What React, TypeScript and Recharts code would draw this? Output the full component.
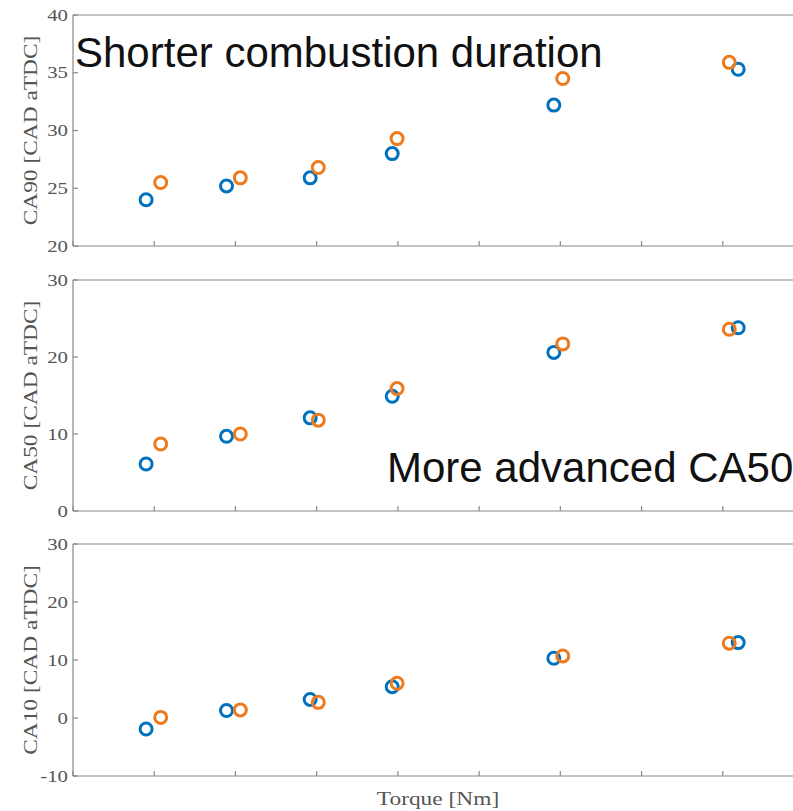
import React from "react";
import { ScatterChart, Scatter, XAxis, YAxis } from "recharts";

// torque positions (axis units, tick labels hidden)
const torqueBlue = [0.9, 1.89, 2.92, 3.93, 5.92, 8.19];
const torqueOrange = [1.08, 2.06, 3.02, 3.99, 6.03, 8.08];

const ca90Blue = [24.0, 25.2, 25.9, 28.0, 32.2, 35.3];
const ca90Orange = [25.5, 25.9, 26.8, 29.3, 34.5, 35.9];

const ca50Blue = [6.1, 9.7, 12.1, 14.9, 20.6, 23.8];
const ca50Orange = [8.7, 10.0, 11.8, 15.9, 21.7, 23.6];

const ca10Blue = [-1.9, 1.3, 3.2, 5.4, 10.3, 13.0];
const ca10Orange = [0.1, 1.4, 2.7, 6.0, 10.7, 12.9];

const xTicks = [0, 1, 2, 3, 4, 5, 6, 7, 8, 9];
const ca90Ticks = [20, 25, 30, 35, 40];
const ca50Ticks = [0, 10, 20, 30];
const ca10Ticks = [-10, 0, 10, 20, 30];

const BLUE = "#0072BD";
const ORANGE = "#EE7A1E";
const AXIS = "#888";
const TEXT = "#555";
const SERIF = "'Liberation Serif', 'Times New Roman', serif";
const SANS = "'Liberation Sans', Arial, sans-serif";

const toPoints = (xs: number[], ys: number[]) => xs.map((x, i) => ({ x, y: ys[i] }));

const Ring = (props: any) => (
  <circle cx={props.cx} cy={props.cy} r={6} fill="none" stroke={props.fill} strokeWidth={3} />
);

const YTick = (props: any) => {
  const { x, y, payload } = props;
  return (
    <g>
      <line x1={x + 5} y1={y} x2={x + 10} y2={y} stroke={AXIS} strokeWidth={1.2} />
      <text
        transform={`translate(${x},${y}) scale(1.3,1)`}
        textAnchor="end"
        dy="0.35em"
        fontFamily={SERIF}
        fontSize={16}
        fill={TEXT}
      >
        {payload.value}
      </text>
    </g>
  );
};

const XTick = (props: any) => {
  const { x, y, dir } = props;
  return <line x1={x} y1={y} x2={x} y2={y + dir * 5} stroke={AXIS} strokeWidth={1.2} />;
};

const WideLabel = ({ x, y, angle = 0, children }: any) => (
  <text
    transform={`translate(${x},${y}) rotate(${angle}) scale(1.3,1)`}
    textAnchor="middle"
    fontFamily={SERIF}
    fontSize={18}
    fill={TEXT}
  >
    {children}
  </text>
);

interface PanelProps {
  top: number;
  height: number;
  marginTop: number;
  marginBottom: number;
  domain: [number, number];
  ticks: number[];
  yLabel: string;
  blue: number[];
  orange: number[];
  children?: React.ReactNode;
}

const Panel = ({ top, height, marginTop, marginBottom, domain, ticks, yLabel, blue, orange, children }: PanelProps) => {
  // both x axes take 1px each
  const plotMid = marginTop + 1 + (height - marginTop - marginBottom - 2) / 2;
  return (
    <div style={{ position: "absolute", left: 0, top }}>
      <ScatterChart width={804} height={height} margin={{ top: marginTop, right: 0, bottom: marginBottom, left: 0 }}>
        <XAxis
          type="number"
          dataKey="x"
          domain={[0, 9]}
          ticks={xTicks}
          interval={0}
          height={1}
          tickSize={0}
          tickMargin={0}
          axisLine={{ stroke: AXIS, strokeWidth: 1.2 }}
          tickLine={false}
          tick={(p: any) => <XTick {...p} dir={-1} />}
        />
        <XAxis
          xAxisId="top"
          orientation="top"
          type="number"
          dataKey="x"
          domain={[0, 9]}
          ticks={xTicks}
          interval={0}
          height={1}
          tickSize={0}
          tickMargin={0}
          axisLine={{ stroke: AXIS, strokeWidth: 1.2 }}
          tickLine={false}
          tick={(p: any) => <XTick {...p} dir={1} />}
        />
        <YAxis
          type="number"
          dataKey="y"
          domain={domain}
          ticks={ticks}
          interval={0}
          width={73}
          tickSize={0}
          tickMargin={5}
          axisLine={{ stroke: AXIS, strokeWidth: 1.2 }}
          tickLine={false}
          tick={(p: any) => <YTick {...p} />}
        />
        <Scatter data={toPoints(torqueBlue, blue)} fill={BLUE} shape={Ring} isAnimationActive={false} />
        <Scatter data={toPoints(torqueOrange, orange)} fill={ORANGE} shape={Ring} isAnimationActive={false} />
        <WideLabel x={37} y={plotMid} angle={-90}>
          {yLabel}
        </WideLabel>
        {children}
      </ScatterChart>
    </div>
  );
};

export default function App() {
  return (
    <div style={{ position: "fixed", left: 0, top: 0, width: 793, height: 811, overflow: "hidden", background: "#fff" }}>
      <Panel top={0} height={265} marginTop={14} marginBottom={18} domain={[20, 40]} ticks={ca90Ticks}
        yLabel="CA90 [CAD aTDC]" blue={ca90Blue} orange={ca90Orange}>
        <text x={75} y={67} fontFamily={SANS} fontSize={42} fill="#111">
          Shorter combustion duration
        </text>
      </Panel>
      <Panel top={265} height={265} marginTop={14} marginBottom={18} domain={[0, 30]} ticks={ca50Ticks}
        yLabel="CA50 [CAD aTDC]" blue={ca50Blue} orange={ca50Orange}>
        <text x={387} y={217} fontFamily={SANS} fontSize={42} fill="#111">
          More advanced CA50
        </text>
      </Panel>
      <Panel top={530} height={281} marginTop={13} marginBottom={34} domain={[-10, 30]} ticks={ca10Ticks}
        yLabel="CA10 [CAD aTDC]" blue={ca10Blue} orange={ca10Orange}>
        <WideLabel x={438} y={275}>Torque [Nm]</WideLabel>
      </Panel>
    </div>
  );
}
